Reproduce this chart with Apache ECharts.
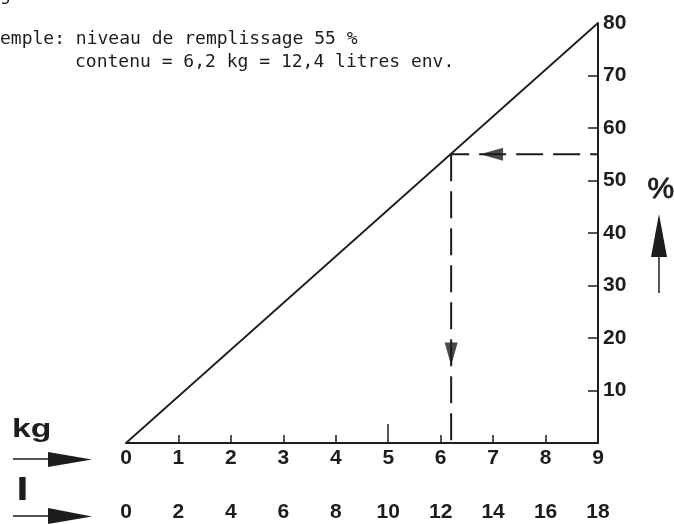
<!DOCTYPE html>
<html>
<head>
<meta charset="utf-8">
<script src="https://cdn.jsdelivr.net/npm/echarts@6/dist/echarts.min.js"></script>
<style>
  html, body { margin: 0; padding: 0; background: #ffffff; }
  #chart { width: 674px; height: 524px; }
</style>
</head>
<body>
<div id="chart"></div>
<script>
// Scale: kilograms on the horizontal axis, fill level (%) on the vertical axis
const kgTicks = [1, 2, 3, 4, 6, 7, 8];
const kgHalfTick = [5];
const kgLabels = [0, 1, 2, 3, 4, 5, 6, 7, 8, 9];
const litreLabels = [0, 2, 4, 6, 8, 10, 12, 14, 16, 18];
const pctTicks = [10, 20, 30, 40, 50, 60, 70];
const pctLabels = [10, 20, 30, 40, 50, 60, 70, 80];

// Fill line: 0 kg at 0 %, 9 kg at 80 %
const fillLine = [[0, 0], [9, 80]];

// Worked example: 55 % -> 6.2 kg
const exampleKg = 6.2;
const examplePct = 55;
const exampleRead = [[exampleKg, examplePct], [9, examplePct]];
const exampleDrop = [[exampleKg, examplePct], [exampleKg, 0]];
// arrow heads along the example path: [kg, %, rotation]
const exampleArrows = [[6.97, 55, 90], [6.2, 16.95, 180]];

const ink = '#1d1d1d';
const numFont = '"Liberation Sans", Arial, sans-serif';
const monoFont = '"DejaVu Sans Mono", monospace';

const chart = echarts.init(document.getElementById('chart'));

const numLabel = { color: ink, fontFamily: numFont, fontSize: 21, fontWeight: 'bold' };

chart.setOption({
  animation: false,
  backgroundColor: '#ffffff',
  grid: { left: 126, right: 76, top: 23, bottom: 81 },
  xAxis: [
    {
      type: 'value', min: 0, max: 9, interval: 1,
      axisLine: { onZero: false, lineStyle: { color: ink, width: 2 } },
      axisTick: { show: true, inside: true, length: 8, customValues: kgTicks,
        lineStyle: { color: ink, width: 1.5 } },
      axisLabel: Object.assign({ customValues: kgLabels, margin: 5 }, numLabel),
      splitLine: { show: false }
    },
    {
      type: 'value', min: 0, max: 9, position: 'bottom',
      axisLine: { show: false },
      axisTick: { show: true, inside: true, length: 19, customValues: kgHalfTick,
        lineStyle: { color: ink, width: 1.5 } },
      axisLabel: { show: false },
      splitLine: { show: false }
    },
    {
      type: 'value', min: 0, max: 18, interval: 2, position: 'bottom',
      axisLine: { show: false },
      axisTick: { show: false },
      axisLabel: Object.assign({ customValues: litreLabels, margin: 59 }, numLabel),
      splitLine: { show: false }
    }
  ],
  yAxis: {
    type: 'value', min: 0, max: 80, interval: 10, position: 'right',
    axisLine: { show: true, onZero: false, lineStyle: { color: ink, width: 2 } },
    axisTick: { show: true, inside: true, length: 10, customValues: pctTicks,
      lineStyle: { color: ink, width: 1.5 } },
    axisLabel: Object.assign({ customValues: pctLabels, margin: 5 }, numLabel),
    splitLine: { show: false }
  },
  series: [
    {
      type: 'line', data: fillLine, symbol: 'none',
      lineStyle: { color: ink, width: 1.8 }
    },
    {
      type: 'line', data: exampleRead, symbol: 'none',
      lineStyle: { color: ink, width: 2, type: [27, 10], dashOffset: 9 }
    },
    {
      type: 'line', data: exampleDrop, symbol: 'none',
      lineStyle: { color: ink, width: 2, type: [27, 10] }
    },
    {
      type: 'scatter',
      data: exampleArrows.map(a => ({ value: [a[0], a[1]], symbolRotate: a[2] })),
      symbol: 'triangle', symbolSize: [13, 23],
      itemStyle: { color: ink }
    }
  ],
  graphic: [
    // note text above the scale
    { type: 'text', left: 0, top: -14,
      style: { text: 'ge en litres.', font: '18px ' + monoFont, fill: ink } },
    { type: 'text', left: 0, top: 30,
      style: { text: 'emple: niveau de remplissage 55 %', font: '18px ' + monoFont, fill: ink } },
    { type: 'text', left: 75, top: 53,
      style: { text: 'contenu = 6,2 kg = 12,4 litres env.', font: '18px ' + monoFont, fill: ink } },

    // unit markers
    { type: 'text', left: 12, top: 417, scaleX: 1.3,
      style: { text: 'kg', font: 'bold 26px ' + numFont, fill: ink } },
    { type: 'line', shape: { x1: 13, y1: 459, x2: 52, y2: 459 },
      style: { stroke: ink, lineWidth: 1.5 } },
    { type: 'polygon', shape: { points: [[48, 452], [92, 459.5], [48, 467]] },
      style: { fill: ink } },

    { type: 'text', left: 16, top: 476, scaleX: 1.5,
      style: { text: 'l', font: 'bold 31px ' + numFont, fill: ink } },
    { type: 'line', shape: { x1: 13, y1: 516, x2: 52, y2: 516 },
      style: { stroke: ink, lineWidth: 1.5 } },
    { type: 'polygon', shape: { points: [[48, 508], [92, 516.5], [48, 524]] },
      style: { fill: ink } },

    { type: 'text', left: 647, top: 174,
      style: { text: '%', font: '30px ' + numFont, fill: ink, stroke: ink, lineWidth: 0.8 } },
    { type: 'line', shape: { x1: 659, y1: 250, x2: 659, y2: 293 },
      style: { stroke: ink, lineWidth: 1.5 } },
    { type: 'polygon', shape: { points: [[651, 257], [659, 214], [667, 257]] },
      style: { fill: ink } }
  ]
});
</script>
</body>
</html>
